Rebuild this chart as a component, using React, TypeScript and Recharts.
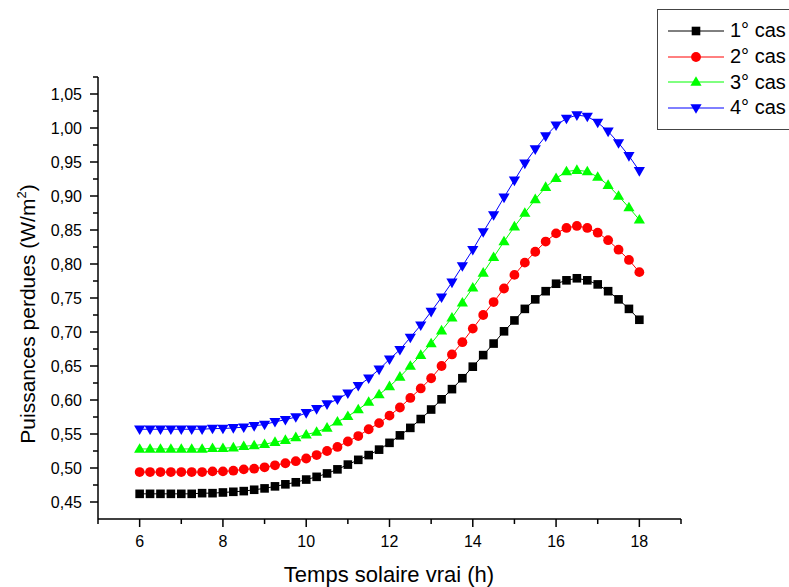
import { LineChart, Line, XAxis, YAxis, Legend } from 'recharts'

const hours = [
  6, 6.25, 6.5, 6.75, 7, 7.25, 7.5, 7.75, 8, 8.25, 8.5, 8.75, 9, 9.25, 9.5, 9.75, 10,
  10.25, 10.5, 10.75, 11, 11.25, 11.5, 11.75, 12, 12.25, 12.5, 12.75, 13, 13.25, 13.5,
  13.75, 14, 14.25, 14.5, 14.75, 15, 15.25, 15.5, 15.75, 16, 16.25, 16.5, 16.75, 17,
  17.25, 17.5, 17.75, 18,
]

const cas1 = [
  0.462, 0.462, 0.462, 0.462, 0.462, 0.462, 0.463, 0.463, 0.464, 0.465, 0.466, 0.468,
  0.47, 0.473, 0.476, 0.479, 0.483, 0.487, 0.492, 0.498, 0.505, 0.512, 0.519, 0.527,
  0.537, 0.548, 0.559, 0.572, 0.586, 0.601, 0.616, 0.632, 0.649, 0.666, 0.683, 0.701,
  0.717, 0.734, 0.748, 0.76, 0.771, 0.776, 0.779, 0.776, 0.77, 0.76, 0.748, 0.734, 0.718,
]

const cas2 = [
  0.494, 0.494, 0.494, 0.494, 0.494, 0.494, 0.494, 0.495, 0.495, 0.496, 0.498, 0.499,
  0.501, 0.504, 0.507, 0.51, 0.514, 0.519, 0.525, 0.531, 0.539, 0.547, 0.557, 0.566,
  0.577, 0.589, 0.603, 0.617, 0.632, 0.65, 0.667, 0.685, 0.705, 0.725, 0.744, 0.764,
  0.784, 0.802, 0.818, 0.833, 0.845, 0.853, 0.856, 0.853, 0.846, 0.835, 0.821, 0.806, 0.788,
]

const cas3 = [
  0.528, 0.528, 0.528, 0.528, 0.528, 0.528, 0.528, 0.529, 0.529, 0.53, 0.532, 0.533,
  0.535, 0.538, 0.541, 0.545, 0.549, 0.553, 0.559, 0.568, 0.576, 0.586, 0.597, 0.608,
  0.62, 0.634, 0.65, 0.666, 0.683, 0.702, 0.721, 0.743, 0.765, 0.787, 0.81, 0.833,
  0.855, 0.875, 0.895, 0.913, 0.926, 0.936, 0.938, 0.936, 0.928, 0.916, 0.9, 0.883, 0.865,
]

const cas4 = [
  0.557, 0.557, 0.557, 0.557, 0.557, 0.557, 0.557, 0.558, 0.558, 0.559, 0.56, 0.562,
  0.564, 0.568, 0.571, 0.575, 0.581, 0.587, 0.594, 0.601, 0.61, 0.621, 0.632, 0.645,
  0.66, 0.674, 0.692, 0.71, 0.73, 0.751, 0.773, 0.797, 0.821, 0.847, 0.872, 0.898,
  0.923, 0.948, 0.969, 0.988, 1.004, 1.014, 1.019, 1.017, 1.008, 0.995, 0.978, 0.959, 0.937,
]

const xMajorTicks = [6, 8, 10, 12, 14, 16, 18]
const xMinorTicks = [5, 7, 9, 11, 13, 15, 17, 19]
const yMajorTicks = [0.45, 0.5, 0.55, 0.6, 0.65, 0.7, 0.75, 0.8, 0.85, 0.9, 0.95, 1.0, 1.05]
const yMinorTicks = [0.475, 0.525, 0.575, 0.625, 0.675, 0.725, 0.775, 0.825, 0.875, 0.925, 0.975, 1.025, 1.075]

const seriesNames = ['1° cas', '2° cas', '3° cas', '4° cas']
const seriesKeys = ['cas1', 'cas2', 'cas3', 'cas4']
const seriesColors = ['#000000', '#ff0000', '#00ff00', '#0000ff']
const seriesShapes = ['square', 'circle', 'up', 'down']

const data = hours.map((h, i) => ({
  h,
  cas1: cas1[i],
  cas2: cas2[i],
  cas3: cas3[i],
  cas4: cas4[i],
}))

const FONT = 'Arial, "Liberation Sans", Helvetica, sans-serif'

const isMajor = (v: number, list: number[]) => list.some((m) => Math.abs(m - v) < 1e-6)

function Marker({ cx, cy, shape, color }: { cx: number; cy: number; shape: string; color: string }) {
  if (cx == null || cy == null || isNaN(cx) || isNaN(cy)) return null
  if (shape === 'square') return <rect x={cx - 4.3} y={cy - 4.3} width={8.6} height={8.6} fill={color} />
  if (shape === 'circle') return <circle cx={cx} cy={cy} r={4.9} fill={color} />
  if (shape === 'up')
    return <polygon points={`${cx},${cy - 5.8} ${cx + 5.6},${cy + 3.8} ${cx - 5.6},${cy + 3.8}`} fill={color} />
  return <polygon points={`${cx},${cy + 5.8} ${cx + 5.6},${cy - 3.8} ${cx - 5.6},${cy - 3.8}`} fill={color} />
}

function YTick(props: any) {
  const { x, y, payload } = props
  const major = isMajor(payload.value, yMajorTicks)
  return (
    <g>
      <line x1={x} x2={x - (major ? 8 : 5)} y1={y} y2={y} stroke="#000" strokeWidth={1.5} />
      {major && (
        <text x={x - 16} y={y} dy="0.36em" textAnchor="end" fontSize={16} fontFamily={FONT} fill="#000">
          {payload.value.toFixed(2).replace('.', ',')}
        </text>
      )}
    </g>
  )
}

function XTick(props: any) {
  const { x, y, payload } = props
  const major = isMajor(payload.value, xMajorTicks)
  return (
    <g>
      <line x1={x} x2={x} y1={y} y2={y + (major ? 8 : 5)} stroke="#000" strokeWidth={1.5} />
      {major && (
        <text x={x} y={y + 28} textAnchor="middle" fontSize={16} fontFamily={FONT} fill="#000">
          {payload.value}
        </text>
      )}
    </g>
  )
}

function LegendBox() {
  return (
    <div
      style={{
        border: '1.5px solid #444',
        background: '#fff',
        padding: '8px 0 8px 10px',
        width: 160,
        boxSizing: 'border-box',
      }}
    >
      {seriesNames.map((name, i) => (
        <div key={name} style={{ display: 'flex', alignItems: 'center', height: 25.7 }}>
          <svg width={56} height={16}>
            <line x1={0} x2={56} y1={8} y2={8} stroke={seriesColors[i]} strokeWidth={1} />
            <Marker cx={28} cy={8} shape={seriesShapes[i]} color={seriesColors[i]} />
          </svg>
          <span style={{ marginLeft: 6, fontSize: 20, fontFamily: FONT, color: '#000', whiteSpace: 'nowrap' }}>
            {name}
          </span>
        </div>
      ))}
    </div>
  )
}

export default function App() {
  return (
    <div style={{ position: 'absolute', left: 0, top: 0, width: 789, height: 587, overflow: 'hidden', background: '#fff' }}>
      <LineChart width={789} height={587} data={data} margin={{ top: 77, right: 108, bottom: 38, left: 38 }}>
        <XAxis
          dataKey="h"
          type="number"
          domain={[5, 19]}
          ticks={[...xMinorTicks, ...xMajorTicks].sort((a, b) => a - b)}
          interval={0}
          height={30}
          tickSize={0}
          tickMargin={0}
          tickLine={false}
          tick={<XTick />}
          axisLine={{ stroke: '#000', strokeWidth: 1.5 }}
          allowDataOverflow
          label={{
            content: () => (
              <text x={389} y={582} textAnchor="middle" fontSize={22} fontFamily={FONT} fill="#000">
                Temps solaire vrai (h)
              </text>
            ),
          }}
        />
        <YAxis
          type="number"
          domain={[0.425, 1.075]}
          ticks={[...yMajorTicks, ...yMinorTicks].sort((a, b) => a - b)}
          interval={0}
          width={60}
          tickSize={0}
          tickMargin={0}
          tickLine={false}
          tick={<YTick />}
          axisLine={{ stroke: '#000', strokeWidth: 1.5 }}
          allowDataOverflow
          label={{
            content: () => (
              <text
                x={35}
                y={314}
                transform="rotate(-90, 35, 314)"
                textAnchor="middle"
                fontSize={21}
                fontFamily={FONT}
                fill="#000"
              >
                Puissances perdues (W/m
                <tspan fontSize={13} dy={-9}>2</tspan>
                <tspan dy={9}>)</tspan>
              </text>
            ),
          }}
        />
        <Legend
          verticalAlign="middle"
          content={() => <LegendBox />}
          wrapperStyle={{ position: 'absolute', left: 657, top: 9, width: 160, height: 120 }}
        />
        {seriesKeys.map((key, i) => (
          <Line
            key={key}
            dataKey={key}
            name={seriesNames[i]}
            stroke={seriesColors[i]}
            strokeWidth={1}
            isAnimationActive={false}
            dot={(p: any) => (
              <Marker key={`${key}-${p.index}`} cx={p.cx} cy={p.cy} shape={seriesShapes[i]} color={seriesColors[i]} />
            )}
            activeDot={false}
          />
        ))}
      </LineChart>
    </div>
  )
}
